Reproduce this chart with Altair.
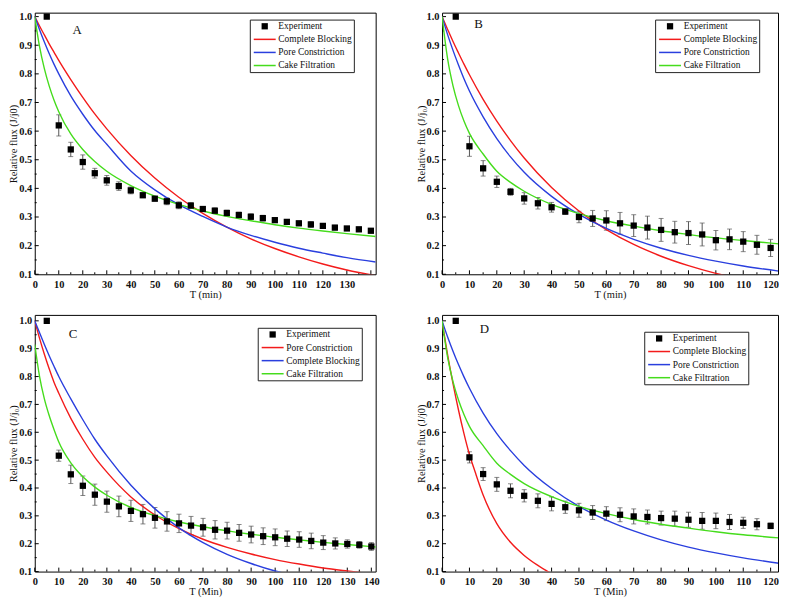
import altair as alt
import pandas as pd

FONT = "Liberation Serif"
RED, BLUE, GREEN = "#f31b1b", "#2a3fde", "#45dc1c"
EXP, CB, PC, CF = "Experiment", "Complete Blocking", "Pore Constriction", "Cake Filtration"
LINE_SYMBOL = "M-3.5,-0.24H3.5V0.24H-3.5Z"

# ---------------- Panel A ----------------
tA_exp = [5, 10, 15, 20, 25, 30, 35, 40, 45, 50, 55, 60, 65, 70, 75, 80, 85, 90, 95, 100,
          105, 110, 115, 120, 125, 130, 135, 140]
vA_exp = [1.0, 0.620, 0.536, 0.492, 0.453, 0.428, 0.408, 0.393, 0.376, 0.364, 0.355, 0.341,
          0.340, 0.328, 0.322, 0.314, 0.307, 0.301, 0.296, 0.289, 0.283, 0.278, 0.274, 0.269,
          0.263, 0.260, 0.257, 0.252]
eA_exp = [0.0, 0.037, 0.025, 0.025, 0.017, 0.017, 0.015, 0.012, 0.008, 0.008, 0.012, 0.012,
          0.010, 0.008, 0.010, 0.010, 0.010, 0.010, 0.010, 0.008, 0.008, 0.008, 0.010, 0.008,
          0.008, 0.006, 0.008, 0.006]
tA_fit = [0, 2, 4, 6, 8, 10, 15, 20, 25, 30, 40, 50, 60, 70, 80, 90, 100, 110, 120, 130, 142]
A_cb = [1.0, 0.967, 0.936, 0.905, 0.876, 0.847, 0.780, 0.718, 0.660, 0.608, 0.515, 0.436,
        0.369, 0.313, 0.265, 0.224, 0.190, 0.161, 0.136, 0.115, 0.095]
A_pc = [1.0, 0.954, 0.911, 0.871, 0.834, 0.800, 0.723, 0.659, 0.602, 0.554, 0.461, 0.395,
        0.343, 0.302, 0.265, 0.236, 0.212, 0.191, 0.174, 0.158, 0.143]
A_cf = [1.0, 0.895, 0.818, 0.758, 0.709, 0.668, 0.590, 0.536, 0.494, 0.460, 0.410, 0.373,
        0.344, 0.321, 0.302, 0.287, 0.273, 0.261, 0.251, 0.242, 0.232]

# ---------------- Panel B ----------------
tB_exp = [5, 10, 15, 20, 25, 30, 35, 40, 45, 50, 55, 60, 65, 70, 75, 80, 85, 90, 95, 100,
          105, 110, 115, 120]
vB_exp = [1.0, 0.547, 0.470, 0.423, 0.388, 0.365, 0.348, 0.334, 0.319, 0.300, 0.295, 0.288,
          0.278, 0.270, 0.263, 0.255, 0.247, 0.244, 0.239, 0.219, 0.222, 0.214, 0.203, 0.192]
eB_exp = [0.0, 0.035, 0.027, 0.020, 0.012, 0.020, 0.020, 0.017, 0.010, 0.020, 0.028, 0.034,
          0.038, 0.038, 0.040, 0.040, 0.038, 0.040, 0.040, 0.034, 0.036, 0.035, 0.033, 0.030]
tB_fit = [0, 2, 4, 6, 8, 10, 15, 20, 25, 30, 40, 50, 60, 70, 80, 90, 100, 110, 123]
B_cb = [1.0, 0.956, 0.913, 0.873, 0.834, 0.797, 0.711, 0.635, 0.567, 0.506, 0.403, 0.321,
        0.256, 0.204, 0.163, 0.130, 0.103, 0.082, 0.061]
B_pc = [1.0, 0.938, 0.882, 0.831, 0.783, 0.740, 0.650, 0.574, 0.510, 0.456, 0.372, 0.309,
        0.260, 0.222, 0.191, 0.166, 0.146, 0.129, 0.111]
B_cf = [1.0, 0.854, 0.758, 0.689, 0.635, 0.592, 0.520, 0.460, 0.421, 0.390, 0.344, 0.312,
        0.287, 0.268, 0.252, 0.239, 0.227, 0.218, 0.206]

# ---------------- Panel C ----------------
tC_exp = [5, 10, 15, 20, 25, 30, 35, 40, 45, 50, 55, 60, 65, 70, 75, 80, 85, 90, 95, 100,
          105, 110, 115, 120, 125, 130, 135, 140]
vC_exp = [1.0, 0.516, 0.449, 0.408, 0.376, 0.351, 0.334, 0.318, 0.306, 0.293, 0.280, 0.273,
          0.265, 0.259, 0.250, 0.247, 0.239, 0.233, 0.227, 0.223, 0.218, 0.215, 0.210, 0.204,
          0.201, 0.199, 0.196, 0.190]
eC_exp = [0.0, 0.020, 0.033, 0.035, 0.038, 0.038, 0.037, 0.038, 0.035, 0.037, 0.035, 0.033,
          0.033, 0.032, 0.033, 0.030, 0.030, 0.030, 0.030, 0.030, 0.028, 0.028, 0.028, 0.025,
          0.020, 0.015, 0.012, 0.014]
tC_fit = [0, 2, 4, 6, 8, 10, 15, 20, 25, 30, 40, 50, 60, 70, 80, 90, 100, 110, 120, 130, 142]
C_pc = [1.0, 0.937, 0.880, 0.828, 0.780, 0.740, 0.650, 0.575, 0.510, 0.457, 0.368, 0.303,
        0.254, 0.216, 0.187, 0.163, 0.143, 0.127, 0.113, 0.102, 0.090]
C_cb = [1.0, 0.957, 0.915, 0.875, 0.837, 0.800, 0.720, 0.645, 0.575, 0.515, 0.410, 0.325,
        0.257, 0.204, 0.162, 0.129, 0.102, 0.082, 0.066, 0.053, 0.041]
C_cf = [0.915, 0.800, 0.720, 0.660, 0.610, 0.565, 0.490, 0.440, 0.403, 0.374, 0.330, 0.301,
        0.278, 0.261, 0.246, 0.234, 0.223, 0.214, 0.205, 0.197, 0.188]

# ---------------- Panel D ----------------
tD_exp = [5, 10, 15, 20, 25, 30, 35, 40, 45, 50, 55, 60, 65, 70, 75, 80, 85, 90, 95, 100,
          105, 110, 115, 120]
vD_exp = [1.0, 0.510, 0.450, 0.413, 0.390, 0.372, 0.354, 0.343, 0.331, 0.320, 0.312, 0.308,
          0.304, 0.298, 0.296, 0.292, 0.290, 0.286, 0.282, 0.282, 0.278, 0.275, 0.270, 0.264]
eD_exp = [0.0, 0.020, 0.023, 0.025, 0.025, 0.022, 0.025, 0.025, 0.022, 0.025, 0.025, 0.025,
          0.025, 0.027, 0.025, 0.025, 0.027, 0.027, 0.030, 0.028, 0.027, 0.020, 0.020, 0.010]
tD_cb = [0, 2, 4, 6, 8, 10, 12, 15, 20, 25, 30, 35, 40]
D_cb = [1.0, 0.880, 0.775, 0.680, 0.595, 0.520, 0.460, 0.375, 0.272, 0.205, 0.158, 0.122, 0.092]
tD_fit = [0, 2, 4, 6, 8, 10, 15, 20, 25, 30, 40, 50, 60, 70, 80, 90, 100, 110, 123]
D_pc = [1.0, 0.943, 0.891, 0.843, 0.799, 0.758, 0.669, 0.595, 0.534, 0.481, 0.398, 0.334,
        0.285, 0.246, 0.214, 0.188, 0.167, 0.149, 0.130]
D_cf = [1.0, 0.871, 0.782, 0.716, 0.664, 0.621, 0.552, 0.489, 0.449, 0.416, 0.369, 0.334,
        0.308, 0.287, 0.270, 0.256, 0.243, 0.232, 0.221]

y_major = [0.1, 0.2, 0.3, 0.4, 0.5, 0.6, 0.7, 0.8, 0.9, 1.0]
y_minor = [0.15, 0.25, 0.35, 0.45, 0.55, 0.65, 0.75, 0.85, 0.95]


def panel(letter, letter_t, letter_v, t_exp, v_exp, e_exp, fits, order, xmax, xlabels,
          x_major, x_minor, width, height, ytop, xtitle, ytitle, lx, ly):
    xs = alt.Scale(domain=[0, xmax], nice=False, zero=False)
    ys = alt.Scale(domain=[0.1, ytop], nice=False, zero=False)
    xaxis = alt.Axis(values=xlabels, title=xtitle, format="d")
    yaxis = alt.Axis(values=y_major, title=ytitle, format=".1f")

    exp_df = pd.DataFrame({"t": t_exp, "v": v_exp,
                           "lo": [v - e for v, e in zip(v_exp, e_exp)],
                           "hi": [v + e for v, e in zip(v_exp, e_exp)],
                           "series": [EXP] * len(t_exp)})
    bar_df = exp_df[exp_df["lo"] < exp_df["hi"]]
    rows = []
    for name, ts, vs in fits:
        for t, v in zip(ts, vs):
            rows.append({"t": t, "v": v, "series": name})
    fit_df = pd.DataFrame(rows)

    # legend scales (experiment + three models)
    cs = alt.Scale(domain=order, range=["black", RED, BLUE, GREEN])
    ss = alt.Scale(domain=order, range=["square", LINE_SYMBOL, LINE_SYMBOL, LINE_SYMBOL])
    # line colour scale (models only)
    ls = alt.Scale(domain=order[1:], range=[RED, BLUE, GREEN])
    leg = alt.Legend(
        title=None, orient="none", legendX=lx, legendY=ly, direction="vertical",
        labelFont=FONT, labelFontSize=9.5, labelColor="#111",
        strokeColor="#222", fillColor="white", padding=2, rowPadding=2.2,
        symbolSize=40, symbolOffset=8.3, labelOffset=9, symbolStrokeWidth=0, symbolOpacity=1,
    )

    X = lambda f: alt.X(f, scale=xs, axis=xaxis)
    Y = lambda f: alt.Y(f, scale=ys, axis=yaxis)

    lines = alt.Chart(fit_df).mark_line(strokeWidth=1.4, clip=True, interpolate="monotone").encode(
        x=X("t:Q"), y=Y("v:Q"),
        stroke=alt.Stroke("series:N", scale=ls, legend=None))
    bars = alt.Chart(bar_df).mark_rule(color="#555", strokeWidth=1).encode(
        x=X("t:Q"), y=Y("lo:Q"), y2="hi:Q")
    cap_lo = alt.Chart(bar_df).mark_tick(color="#555", orient="horizontal", size=5, thickness=1).encode(
        x=X("t:Q"), y=Y("lo:Q"))
    cap_hi = alt.Chart(bar_df).mark_tick(color="#555", orient="horizontal", size=5, thickness=1).encode(
        x=X("t:Q"), y=Y("hi:Q"))
    pts = alt.Chart(exp_df).mark_point(filled=True, size=40, opacity=1).encode(
        x=X("t:Q"), y=Y("v:Q"),
        color=alt.Color("series:N", scale=cs, legend=leg),
        shape=alt.Shape("series:N", scale=ss, legend=leg))

    xt_maj = alt.Chart(pd.DataFrame({"t": x_major})).mark_rule(color="black").encode(
        x=X("t:Q"), y=alt.value(height), y2=alt.value(height - 4))
    xt_min = alt.Chart(pd.DataFrame({"t": x_minor})).mark_rule(color="black").encode(
        x=X("t:Q"), y=alt.value(height), y2=alt.value(height - 2))
    yt_maj = alt.Chart(pd.DataFrame({"v": y_major})).mark_rule(color="black").encode(
        y=Y("v:Q"), x=alt.value(0), x2=alt.value(4))
    yt_min = alt.Chart(pd.DataFrame({"v": y_minor})).mark_rule(color="black").encode(
        y=Y("v:Q"), x=alt.value(0), x2=alt.value(2))

    lab = alt.Chart(pd.DataFrame({"t": [letter_t], "v": [letter_v], "s": [letter]})).mark_text(
        font=FONT, fontSize=13, align="center", baseline="middle", color="#111").encode(
        x=X("t:Q"), y=Y("v:Q"), text="s:N")

    return alt.layer(xt_maj, xt_min, yt_maj, yt_min, bars, cap_lo, cap_hi, lines, pts, lab).properties(
        width=width, height=height)


x140 = list(range(0, 145, 10))
x140_min = list(range(5, 145, 10))
x120 = list(range(0, 125, 10))
x120_min = list(range(5, 125, 10))

pA = panel("A", 17.7, 0.952, tA_exp, vA_exp, eA_exp,
           [(CB, tA_fit, A_cb), (PC, tA_fit, A_pc), (CF, tA_fit, A_cf)],
           [EXP, CB, PC, CF], 142, list(range(0, 135, 10)), x140, x140_min,
           344, 264, 1.0138, "T (min)", "Relative flux (J/j0)", 217, 7)
pB = panel("B", 13.3, 0.974, tB_exp, vB_exp, eB_exp,
           [(CB, tB_fit, B_cb), (PC, tB_fit, B_pc), (CF, tB_fit, B_cf)],
           [EXP, CB, PC, CF], 122.7, x120, x120, x120_min,
           339, 264, 1.0138, "T (min)", "Relative flux (J/j\u2080)", 215, 7)
pC = panel("C", 15.9, 0.954, tC_exp, vC_exp, eC_exp,
           [(PC, tC_fit, C_pc), (CB, tC_fit, C_cb), (CF, tC_fit, C_cf)],
           [EXP, PC, CB, CF], 141.8, x140, x140, x140_min,
           344, 259, 1.0213, "T (Min)", "Relative flux (J/j\u2080)", 225, 13)
pD = panel("D", 15.5, 0.972, tD_exp, vD_exp, eD_exp,
           [(CB, tD_cb, D_cb), (PC, tD_fit, D_pc), (CF, tD_fit, D_cf)],
           [EXP, CB, PC, CF], 122.7, x120, x120, x120_min,
           339, 259, 1.0213, "T (Min)", "Relative flux (J/j0)", 204, 17)

chart = alt.concat(pA, pB, pC, pD, columns=2, spacing={"row": 41, "column": 67},
                   bounds="flush").resolve_scale(
    color="independent", shape="independent", stroke="independent").properties(
    padding=0).configure_view(
    stroke="black", strokeWidth=1).configure_axis(
    grid=False, domain=False, ticks=False, tickSize=0,
    labelFont=FONT, labelFontWeight="bold", labelFontSize=10.5, labelColor="#111",
    titleFont=FONT, titleFontWeight="normal", titleFontSize=10.5, titleColor="#111",
    labelOverlap=False, labelFlush=False).configure_axisX(
    labelPadding=5, titlePadding=0).configure_axisY(
    labelPadding=3, titlePadding=0).configure_legend(
    labelFont=FONT, labelFontSize=9.5, labelColor="#111")

chart.save("out.html", embed_options={"renderer": "svg", "actions": False})
